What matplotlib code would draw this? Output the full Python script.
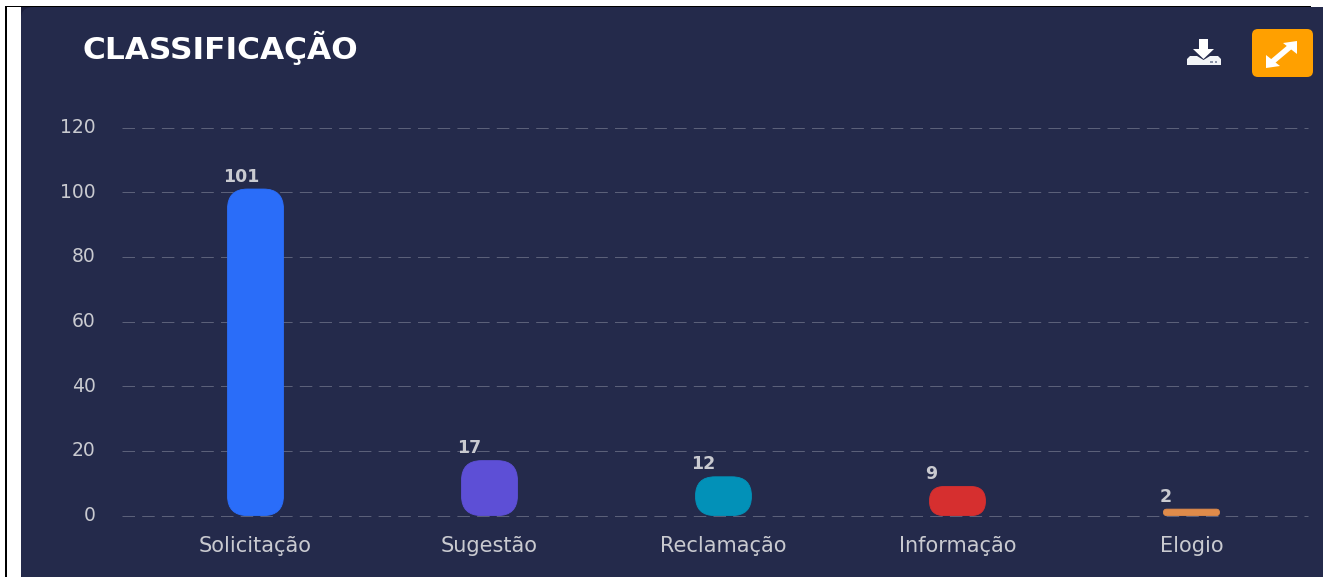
import matplotlib
matplotlib.use("Agg")
import matplotlib.pyplot as plt
from matplotlib.patches import FancyBboxPatch, Rectangle, Polygon

plt.rcParams['font.family'] = ['DejaVu Sans']

categories = ["Solicitação", "Sugestão", "Reclamação", "Informação", "Elogio"]
values = [101, 17, 12, 9, 2]
colors = ["#2a6df9", "#5d4fd6", "#0291b8", "#d62f2f", "#e08b4a"]
y_ticks = [0, 20, 40, 60, 80, 100, 120]

W, H = 1323, 577
panel = "#242a4b"
txt = "#c9cad0"

fig = plt.figure(figsize=(W / 100, H / 100), dpi=100, facecolor="white")

# pixel overlay for the page frame and the icons
bg = fig.add_axes([0, 0, 1, 1])
bg.set_xlim(0, W)
bg.set_ylim(H, 0)
bg.axis("off")
bg.add_patch(Rectangle((21, 7), W - 21, H - 7, fc="#1b1f3c", ec="none"))
bg.add_patch(FancyBboxPatch((21, 7), W, H, boxstyle="round,pad=0,rounding_size=12", fc=panel, ec="none"))
bg.add_patch(Rectangle((5, 6), 2.4, H, fc="black", ec="none"))
bg.add_patch(Rectangle((5, 6), 1306, 1.4, fc="black", ec="none"))

bg.text(82, 48, "CLASSIFICAÇÃO", color="white", fontsize=22.5, fontweight="bold", va="center", ha="left")

# download icon
bg.add_patch(Polygon([(1187, 65), (1187, 59), (1190, 56), (1197, 56), (1203.5, 60), (1210, 56), (1218, 56),
                      (1221, 59), (1221, 65)], fc="#f2f4f7", ec="none"))
bg.add_patch(Polygon([(1199, 39), (1208, 39), (1208, 49), (1214, 49), (1203.5, 59), (1193, 49), (1199, 49)],
                     fc="white", ec="none"))
bg.add_patch(Rectangle((1210, 60.5), 2.5, 2, fc="#8a93a8", ec="none"))
bg.add_patch(Rectangle((1214.5, 60.5), 2.5, 2, fc="#8a93a8", ec="none"))

# expand button
bg.add_patch(FancyBboxPatch((1252, 29), 61, 48, boxstyle="round,pad=0,rounding_size=6", fc="#ffa000", ec="none"))
bg.plot([1272, 1291], [62, 46], color="white", lw=4, solid_capstyle="butt")
bg.add_patch(Polygon([(1266, 68), (1266, 55), (1280, 66)], fc="white", ec="none"))
bg.add_patch(Polygon([(1297, 41), (1297, 54), (1283, 43)], fc="white", ec="none"))
bg.set_xlim(0, W)
bg.set_ylim(H, 0)

# chart axes: x 122..1308, y 515.6 (0) .. 127.6 (120), the fraction keeps the zero line under the bars
ax = fig.add_axes([122 / W, 1 - 515.6 / H, (1308 - 122) / W, (515 - 127) / H])
ax.patch.set_alpha(0)
x_pos = list(range(len(categories)))
ax.set_xlim(-0.5705, 4.498)
ax.set_ylim(0, 120)
ax.set_axisbelow(True)
ax.grid(axis="y", color="#5b6079", lw=0.72, linestyle=(0, (12.5, 7.2)), clip_on=False)
ax.set_xticks(x_pos, categories)
ax.set_yticks(y_ticks)
ax.tick_params(axis="both", length=0, colors=txt)
ax.tick_params(axis="y", labelsize=13.5, pad=19)
ax.tick_params(axis="x", labelsize=15, pad=15)
for s in ax.spines.values():
    s.set_visible(False)
for lab in ax.get_yticklabels():
    lab.set_verticalalignment("center")
for line in ax.get_ygridlines():
    line.set_clip_on(False)

# px per unit, so the corners come out round
px_x = (1308 - 122) / (4.498 + 0.5705)
px_y = (515 - 127) / 120
bar_w = 56 / px_x
for x, v, c in zip(x_pos, values, colors):
    r_px = min(20, v * px_y / 2)
    ax.add_patch(FancyBboxPatch((x - bar_w / 2, 0), bar_w, v,
                                boxstyle=f"round,pad=0,rounding_size={r_px / px_x}",
                                mutation_aspect=px_x / px_y, fc=c, ec=c, lw=0.6, zorder=3, clip_on=False))
    ax.annotate(str(v), (x - bar_w / 2, v), xytext=(-3, 9), textcoords="offset points",
                ha="left", va="center", color=txt, fontsize=12.5, fontweight="bold", zorder=4)

fig.savefig("out.png", dpi=100, facecolor="white")
